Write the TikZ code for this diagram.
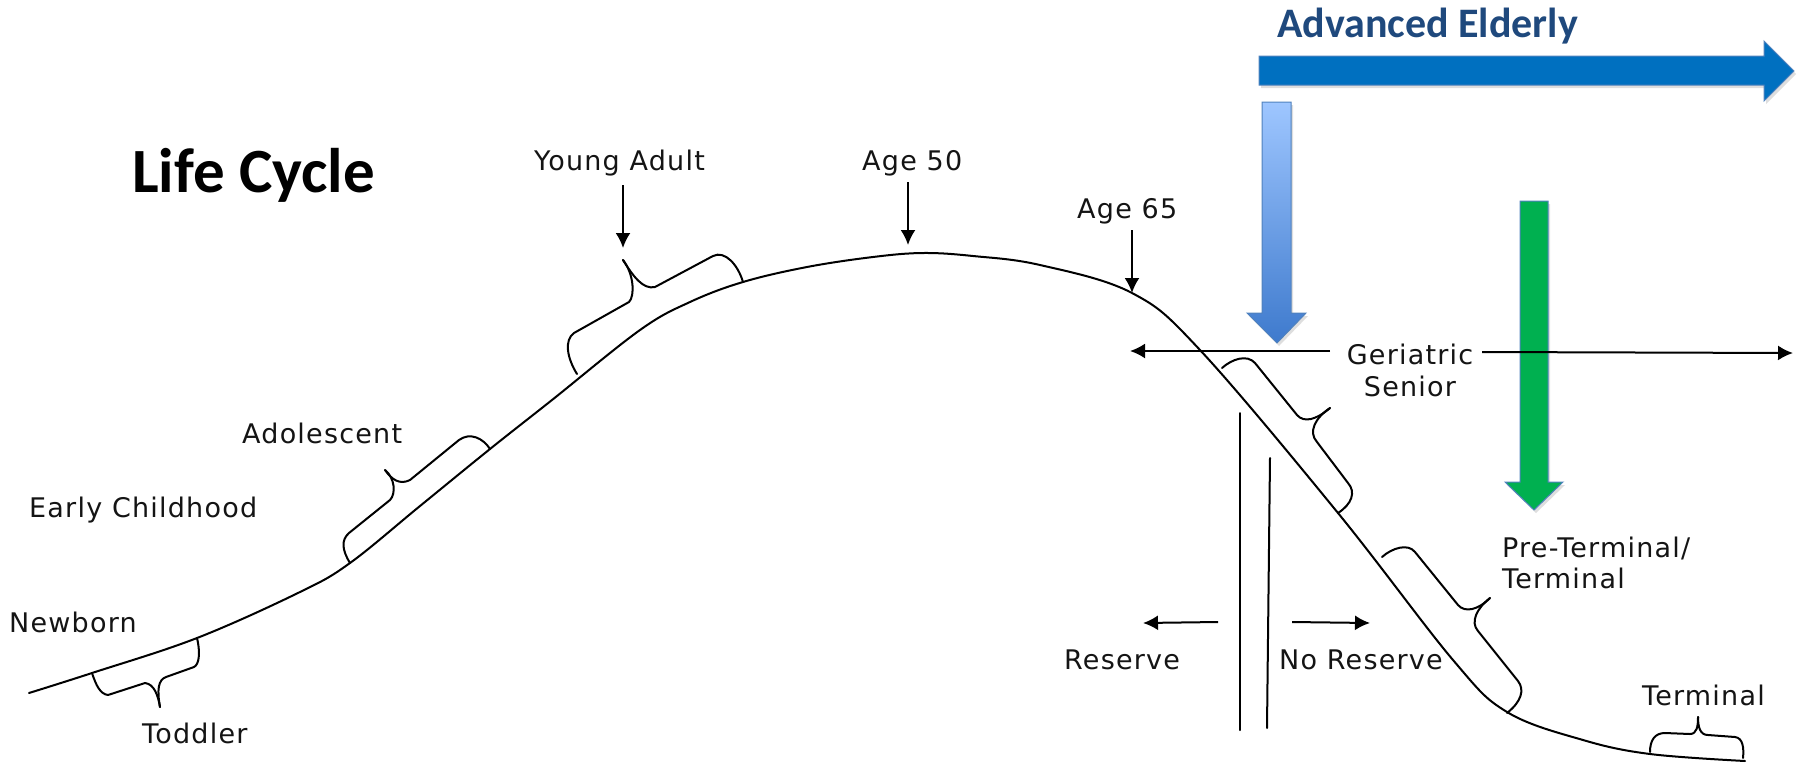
\documentclass[tikz,border=0pt]{standalone}
\usepackage{fontspec}
\usetikzlibrary{arrows.meta}
\newfontfamily\lblfont[LetterSpace=4.5]{DejaVu Sans}
\newfontfamily\ttlfont{Carlito}
\definecolor{arrowblue}{RGB}{0,112,192}
\definecolor{titleblue}{RGB}{31,73,125}
\definecolor{edgeblue}{RGB}{79,129,189}
\definecolor{lightbluetop}{RGB}{158,198,255}
\definecolor{lightbluebot}{RGB}{62,122,205}
\definecolor{greenfill}{RGB}{0,176,80}
\definecolor{inkc}{RGB}{20,20,20}
\begin{document}
\begin{tikzpicture}[x=1pt,y=-1pt,
  lbl/.style={font=\lblfont\fontsize{27}{32}\selectfont, inner sep=0pt, text=inkc},
  ttl/.style={font=\ttlfont\bfseries\fontsize{63}{70}\selectfont, inner sep=0pt},
  subttl/.style={font=\ttlfont\bfseries\fontsize{42}{48}\selectfont, inner sep=0pt, text=titleblue},
  curve/.style={line width=2pt, line cap=round, line join=round},
  brace/.style={line width=2pt, line cap=round, line join=round},
  arr/.style={line width=2pt, -{Latex[length=15pt,width=15pt]}},
  bigarrow/.style={draw=edgeblue, line width=1pt},
  shadowfx/.style={fill=black, opacity=0.13, draw=none}]
\useasboundingbox (0,0) rectangle (1808,764);

% ---- titles ----
\node[ttl, anchor=base west] (title) at (132,192) {Life Cycle};
\node[subttl, anchor=base west] (adv) at (1277,37) {Advanced Elderly};

% ---- big block arrows ----
% blue horizontal
\fill[shadowfx] (1261,59) -- (1766,59) -- (1766,44) -- (1796,74) -- (1766,104) -- (1766,88) -- (1261,88) -- cycle;
\filldraw[bigarrow, fill=arrowblue] (1259,56) -- (1764,56) -- (1764,41) -- (1794,71) -- (1764,101) -- (1764,85) -- (1259,85) -- cycle;
% light blue vertical
\fill[shadowfx] (1264,105) -- (1293,105) -- (1293,316) -- (1308,316) -- (1279,346) -- (1249,316) -- (1264,316) -- cycle;
\shade[top color=lightbluetop, bottom color=lightbluebot] (1262,102) -- (1291,102) -- (1291,313) -- (1306,313) -- (1277,343) -- (1247,313) -- (1262,313) -- cycle;
\draw[bigarrow] (1262,102) -- (1291,102) -- (1291,313) -- (1306,313) -- (1277,343) -- (1247,313) -- (1262,313) -- cycle;
% green vertical
\fill[shadowfx] (1522,204) -- (1550,204) -- (1550,485) -- (1565,485) -- (1536,513) -- (1507,485) -- (1522,485) -- cycle;
\filldraw[bigarrow, fill=greenfill] (1520,201) -- (1548,201) -- (1548,482) -- (1563,482) -- (1534,510) -- (1505,482) -- (1520,482) -- cycle;

% ---- life curve ----
\draw[curve] plot[smooth, tension=0.6] coordinates {(29,693) (92,673) (197,638) (300,592) (350,563) (420,506) (490,449) (552,400) (640,330) (690,302) (743,282) (807,267) (873,257) (923,253) (973,256) (1040,265) (1132,293) (1200,350) (1338,513) (1453,660) (1507,712) (1583,740) (1650,754) (1745,761)};

% ---- braces ----
% Toddler
\draw[brace] (92,673) .. controls (96,685) and (100,694) .. (108,695) -- (145,683) .. controls (154,684) and (158,695) .. (160,707);
\draw[brace] (160,707) .. controls (157,690) and (158,680) .. (166,677) -- (194,667) .. controls (200,664) and (200,650) .. (197,638);
% Adolescent
\draw[brace] (350,563) .. controls (342,550) and (341,540) .. (349,533) -- (390,500) .. controls (396,494) and (395,478) .. (385,470);
\draw[brace] (385,470) .. controls (392,480) and (400,485) .. (410,480) -- (459,440) .. controls (470,432) and (483,438) .. (490,449);
% Young adult
\draw[brace] (577,374) .. controls (567,358) and (564,340) .. (574,333) -- (629,302) .. controls (635,296) and (634,274) .. (623,260);
\draw[brace] (623,260) .. controls (633,276) and (643,290) .. (655,287) -- (713,256) .. controls (725,250) and (738,265) .. (743,282);
% Geriatric senior
\draw[brace] (1222,368) .. controls (1232,359) and (1247,354) .. (1255,363) -- (1297,415) .. controls (1304,423) and (1316,420) .. (1330,408);
\draw[brace] (1330,408) .. controls (1315,418) and (1308,432) .. (1317,442) -- (1348,483) .. controls (1356,492) and (1352,504) .. (1338,513);
% Pre-terminal
\draw[brace] (1382,557) .. controls (1392,548) and (1408,543) .. (1415,552) -- (1458,605) .. controls (1465,613) and (1478,610) .. (1490,598);
\draw[brace] (1490,598) .. controls (1477,608) and (1470,622) .. (1478,631) -- (1518,681) .. controls (1525,690) and (1521,702) .. (1507,713);
% Terminal
\draw[brace] (1650,752) .. controls (1650,740) and (1655,733) .. (1665,733) -- (1690,734) .. controls (1697,734) and (1698,726) .. (1698,717);
\draw[brace] (1698,717) .. controls (1698,727) and (1700,735) .. (1708,735) -- (1735,737) .. controls (1743,738) and (1744,748) .. (1743,758);

% ---- reserve divider lines ----
\coordinate (r1t) at (1240,413); \coordinate (r1b) at (1240,730);
\coordinate (r2t) at (1270,458); \coordinate (r2b) at (1267,728);
\draw[curve] (r1t) -- (r1b);
\draw[curve] (r2t) -- (r2b);

% ---- labels ----
\node[lbl, anchor=base west] (ya) at (534,170) {Young Adult};
\node[lbl, anchor=base west] (a50) at (862,170) {Age 50};
\node[lbl, anchor=base west] (a65) at (1077,218) {Age 65};
\node[lbl, anchor=base west] (ado) at (242,443) {Adolescent};
\node[lbl, anchor=base west] (ech) at (29,517) {Early Childhood};
\node[lbl, anchor=base west] (nb) at (9,632) {Newborn};
\node[lbl, anchor=base west] (tod) at (142,743) {Toddler};
\node[lbl, anchor=base] (ger) at (1410,364) {Geriatric};
\node[lbl, anchor=base] (sen) at (1410,396) {Senior};
\node[lbl, anchor=base west] (res) at (1064,669) {Reserve};
\node[lbl, anchor=base west] (nres) at (1279,669) {No Reserve};
\node[lbl, anchor=base west] (pt1) at (1502,557) {Pre-Terminal/};
\node[lbl, anchor=base west] (pt2) at (1502,588) {Terminal};
\node[lbl, anchor=base west] (term) at (1642,705) {Terminal};

% ---- pointer arrows ----
\coordinate (yaS) at (623,185); \coordinate (yaE) at (623,248);
\coordinate (a50S) at (908,182); \coordinate (a50E) at (908,245);
\coordinate (a65S) at (1132,230); \coordinate (a65E) at (1132,293);
\draw[arr] (yaS) -- (yaE);
\draw[arr] (a50S) -- (a50E);
\draw[arr] (a65S) -- (a65E);

\coordinate (gerLs) at (1330,351); \coordinate (gerL) at (1130,351);
\coordinate (gerRs) at (1482,352); \coordinate (gerR) at (1793,353);
\draw[arr] (gerLs) -- (gerL);
\draw[arr] (gerRs) -- (gerR);

\coordinate (resS) at (1218,622); \coordinate (resE) at (1143,623);
\coordinate (nresS) at (1292,622); \coordinate (nresE) at (1370,623);
\draw[arr] (resS) -- (resE);
\draw[arr] (nresS) -- (nresE);
\end{tikzpicture}
\end{document}
